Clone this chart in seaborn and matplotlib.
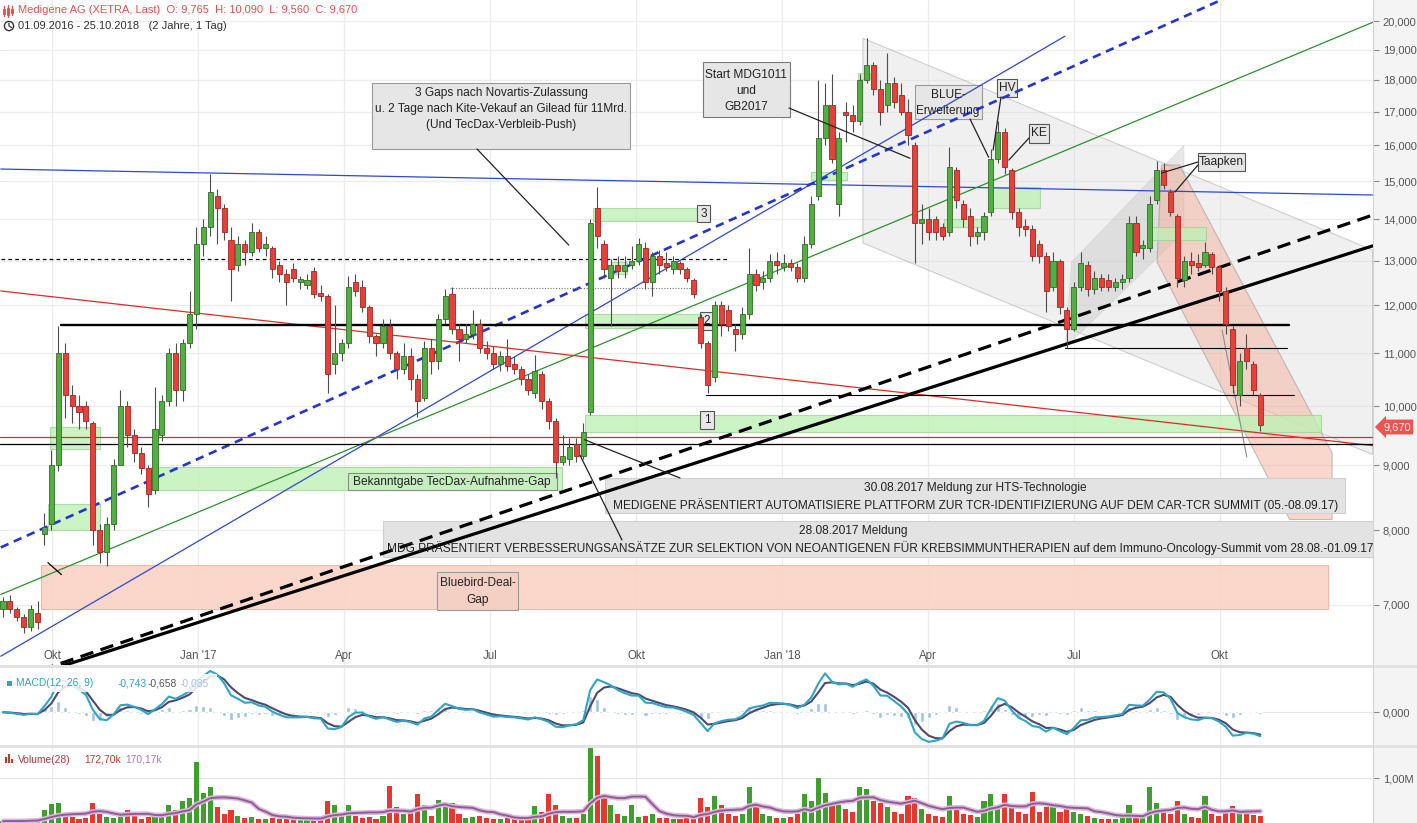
import numpy as np
import pandas as pd
import matplotlib
matplotlib.use("Agg")
import matplotlib.pyplot as plt
import seaborn as sns
from matplotlib.patches import Rectangle, Polygon, Circle
from matplotlib.lines import Line2D
from matplotlib.transforms import Affine2D
from matplotlib.ticker import NullLocator, FixedLocator, FixedFormatter

sns.set_theme(style="white")
plt.rcParams["font.family"] = ["Liberation Sans", "DejaVu Sans"]

# ------------------------------------------------------------------ data
START = "2016-09-01"
END = "2018-10-25"

opens = [6.95, 7.05, 6.95, 6.85, 6.72, 6.90, 7.95, 8.10, 9.00, 11.00,
         10.20, 10.00, 10.00, 9.70, 8.00, 7.70, 8.10, 9.00, 10.00, 9.50,
         9.20, 8.95, 8.60, 9.50, 10.10, 11.00, 10.30, 11.20, 11.80, 13.40,
         13.80, 14.60, 14.30, 13.50, 12.90, 13.40, 13.20, 13.70, 13.30, 13.30,
         12.90, 12.70, 12.80, 12.50, 12.45, 12.75, 12.25, 12.20, 10.80, 11.00,
         11.20, 12.50, 12.40, 11.95, 11.35, 11.20, 11.55, 11.00, 10.70, 10.95,
         10.50, 10.15, 11.10, 10.85, 11.70, 12.25, 11.50, 11.30, 11.40, 11.60,
         11.10, 11.00, 10.80, 10.95, 10.80, 10.70, 10.50, 10.25, 10.60, 10.10,
         9.75, 9.05, 9.10, 9.35, 9.15, 9.90, 14.30, 13.40, 12.60, 12.90,
         12.75, 12.90, 13.00, 13.30, 12.50, 13.10, 12.95, 12.80, 12.95, 12.80,
         12.55, 11.75, 11.20, 10.55, 12.00, 11.90, 11.50, 11.40, 11.80, 12.70,
         12.50, 12.60, 13.00, 12.85, 12.95, 12.85, 12.60, 13.40, 14.60, 16.20,
         17.20, 14.40, 17.00, 16.90, 16.70, 18.00, 18.50, 17.70, 17.20, 17.90,
         17.50, 17.00, 16.00, 13.90, 14.00, 14.00, 13.80, 13.70, 15.30, 14.40,
         14.10, 13.60, 13.70, 14.20, 15.60, 16.40, 15.30, 14.20, 13.80, 13.75,
         13.40, 13.10, 12.40, 13.00, 11.90, 11.50, 12.40, 12.90, 12.35, 12.60,
         12.55, 12.40, 12.50, 12.60, 13.90, 13.30, 13.30, 14.50, 15.30, 14.70,
         14.10, 12.55, 13.00, 12.95, 12.90, 13.15, 12.85, 12.30, 11.50, 10.20,
         11.10, 10.80, 10.20]
highs = [7.10, 7.12, 6.97, 6.88, 7.00, 7.05, 8.25, 9.25, 11.55, 11.20,
         10.40, 10.20, 10.10, 9.75, 8.10, 8.20, 9.10, 10.30, 10.10, 9.60,
         9.30, 9.00, 10.35, 10.20, 11.10, 11.20, 11.30, 12.30, 13.80, 14.00,
         15.20, 14.80, 14.40, 13.80, 13.60, 13.50, 13.90, 13.75, 13.60, 13.35,
         13.00, 12.80, 12.95, 12.65, 12.70, 12.85, 12.45, 12.25, 12.00, 11.30,
         12.65, 12.70, 12.55, 12.00, 11.40, 11.70, 11.70, 11.05, 11.20, 11.10,
         10.60, 11.25, 11.30, 11.80, 12.35, 12.40, 11.60, 11.60, 11.90, 11.70,
         11.25, 11.15, 11.05, 11.30, 10.95, 10.75, 10.60, 10.97, 10.65, 10.15,
         9.80, 9.50, 9.45, 9.45, 9.70, 14.00, 14.85, 13.50, 13.05, 13.10,
         13.10, 13.35, 13.55, 13.45, 13.20, 13.25, 13.20, 13.10, 13.00, 12.85,
         12.60, 11.80, 11.25, 12.10, 12.10, 12.00, 11.60, 11.95, 13.30, 12.80,
         12.75, 13.15, 13.20, 13.15, 13.05, 12.95, 13.60, 14.60, 18.00, 17.90,
         18.20, 16.40, 17.30, 17.20, 18.20, 19.40, 18.60, 18.00, 18.90, 18.10,
         17.90, 17.40, 16.10, 14.40, 14.30, 14.10, 13.90, 15.95, 15.40, 14.50,
         14.30, 13.80, 14.20, 15.90, 16.70, 16.50, 15.35, 14.30, 14.00, 13.85,
         13.50, 13.20, 13.20, 13.05, 11.95, 12.50, 13.20, 13.00, 12.75, 12.70,
         12.70, 12.60, 12.70, 14.10, 14.10, 13.50, 14.60, 15.55, 15.50, 14.80,
         14.15, 13.10, 13.20, 13.15, 13.45, 13.20, 12.90, 12.40, 11.55, 11.00,
         11.40, 10.85, 10.25]
lows = [6.85, 6.90, 6.80, 6.65, 6.68, 6.70, 7.80, 8.00, 8.90, 9.80,
        9.70, 9.60, 9.60, 7.80, 7.55, 7.50, 8.00, 9.00, 9.30, 9.05,
        8.85, 8.35, 8.55, 9.40, 10.00, 10.00, 10.10, 11.10, 11.50, 13.10,
        13.60, 13.40, 13.50, 12.10, 12.75, 12.90, 13.10, 13.20, 13.10, 12.60,
        12.50, 12.00, 12.50, 12.35, 12.35, 12.15, 12.10, 10.25, 10.60, 10.85,
        11.10, 12.20, 11.85, 11.20, 10.95, 11.10, 10.90, 10.50, 10.60, 10.30,
        9.82, 10.10, 10.60, 10.70, 11.60, 11.40, 10.85, 11.20, 11.30, 11.00,
        10.90, 10.70, 10.65, 10.65, 10.60, 10.40, 10.20, 10.15, 9.95, 9.60,
        8.80, 9.00, 9.00, 9.05, 9.10, 9.85, 13.30, 12.60, 11.55, 12.60,
        12.60, 12.80, 12.90, 12.35, 12.20, 12.70, 12.75, 12.70, 12.70, 12.50,
        12.15, 11.10, 10.25, 10.45, 11.35, 11.45, 11.05, 11.30, 11.70, 12.30,
        12.35, 12.50, 12.70, 12.75, 12.75, 12.50, 12.50, 13.30, 14.50, 16.00,
        15.50, 14.10, 16.10, 16.40, 16.60, 17.90, 17.50, 16.60, 17.00, 17.10,
        16.90, 16.00, 12.95, 13.40, 13.50, 13.50, 13.50, 13.60, 14.30, 13.80,
        13.35, 13.40, 13.50, 14.10, 15.50, 15.20, 14.00, 13.60, 13.60, 13.00,
        12.95, 11.85, 12.30, 11.80, 11.10, 11.45, 12.30, 12.20, 12.25, 12.30,
        12.30, 12.30, 12.35, 12.50, 13.10, 13.05, 13.20, 14.40, 14.80, 14.10,
        12.40, 12.40, 12.70, 12.75, 12.85, 12.70, 12.10, 11.40, 10.25, 10.00,
        10.70, 10.20, 9.56]
closes = [7.05, 6.95, 6.85, 6.72, 6.95, 6.78, 8.05, 9.00, 11.00, 10.20,
          10.00, 9.90, 9.75, 8.00, 7.70, 8.10, 9.00, 10.00, 9.50, 9.20,
          8.95, 8.55, 9.60, 10.10, 11.00, 10.30, 11.20, 11.80, 13.40, 13.80,
          14.70, 14.30, 13.70, 12.80, 13.40, 13.20, 13.70, 13.30, 13.40, 12.80,
          12.70, 12.50, 12.60, 12.55, 12.55, 12.25, 12.20, 10.60, 11.00, 11.20,
          12.40, 12.30, 11.95, 11.35, 11.20, 11.55, 11.00, 10.70, 10.95, 10.50,
          10.10, 11.10, 10.85, 11.70, 12.20, 11.50, 11.30, 11.40, 11.60, 11.10,
          11.00, 10.80, 10.95, 10.75, 10.70, 10.50, 10.30, 10.65, 10.10, 9.75,
          9.05, 9.15, 9.30, 9.15, 9.55, 13.90, 13.60, 12.80, 12.90, 12.75,
          12.90, 13.00, 13.40, 12.50, 13.10, 12.90, 12.85, 13.00, 12.80, 12.60,
          12.25, 11.20, 10.40, 12.00, 11.60, 11.55, 11.40, 11.80, 12.70, 12.45,
          12.60, 13.00, 12.90, 12.95, 12.85, 12.60, 13.40, 14.40, 16.20, 17.20,
          15.60, 16.20, 16.90, 16.70, 18.00, 18.50, 17.70, 17.00, 17.90, 17.30,
          17.00, 16.30, 13.90, 14.00, 13.70, 13.70, 13.60, 15.40, 14.50, 14.00,
          13.60, 13.60, 14.10, 15.60, 16.40, 15.40, 14.20, 13.80, 13.75, 13.10,
          13.10, 12.30, 13.00, 11.95, 11.50, 12.40, 12.95, 12.35, 12.60, 12.40,
          12.40, 12.50, 12.55, 13.90, 13.20, 13.30, 14.40, 15.30, 14.90, 14.20,
          12.60, 13.00, 12.90, 12.85, 13.20, 12.85, 12.30, 11.60, 10.40, 10.85,
          10.85, 10.30, 9.67]
volumes_m = [0.04, 0.05, 0.04, 0.05, 0.07, 0.08, 0.30, 0.42, 0.45, 0.20,
             0.14, 0.10, 0.12, 0.45, 0.20, 0.14, 0.12, 0.18, 0.30, 0.20,
             0.10, 0.14, 0.22, 0.16, 0.40, 0.30, 0.50, 0.55, 1.36, 0.67,
             0.80, 0.35, 0.20, 0.30, 0.16, 0.12, 0.14, 0.10, 0.09, 0.12,
             0.10, 0.14, 0.09, 0.08, 0.07, 0.11, 0.09, 0.50, 0.40, 0.20,
             0.40, 0.16, 0.12, 0.14, 0.10, 0.15, 0.83, 0.35, 0.20, 0.24,
             0.64, 0.40, 0.15, 0.52, 0.40, 0.45, 0.20, 0.12, 0.14, 0.15,
             0.11, 0.09, 0.08, 0.12, 0.10, 0.09, 0.11, 0.38, 0.25, 0.64,
             0.40, 0.15, 0.11, 0.12, 0.20, 1.66, 1.50, 0.64, 0.40, 0.20,
             0.15, 0.40, 0.14, 0.15, 0.20, 0.12, 0.11, 0.09, 0.10, 0.12,
             0.16, 0.56, 0.35, 0.60, 0.40, 0.20, 0.15, 0.20, 0.80, 0.40,
             0.20, 0.15, 0.12, 0.11, 0.14, 0.20, 0.65, 0.50, 1.00, 0.67,
             0.45, 0.40, 0.32, 0.25, 0.80, 0.75, 0.50, 0.45, 0.35, 0.25,
             0.20, 0.60, 0.55, 0.32, 0.20, 0.15, 0.14, 0.60, 0.32, 0.20,
             0.18, 0.14, 0.50, 0.65, 0.40, 0.65, 0.35, 0.25, 0.20, 0.70,
             0.25, 0.35, 0.40, 0.25, 0.38, 0.25, 0.20, 0.15, 0.11, 0.09,
             0.08, 0.09, 0.11, 0.40, 0.20, 0.12, 0.80, 0.45, 0.25, 0.20,
             0.48, 0.20, 0.14, 0.12, 0.60, 0.20, 0.15, 0.25, 0.37, 0.20,
             0.25, 0.18, 0.16]

price_ticks = [7, 8, 9, 10, 11, 12, 13, 14, 15, 16, 17, 18, 19, 20]
quarter_dates = ["2016-10-03", "2017-01-02", "2017-04-03", "2017-07-03", "2017-10-02",
                 "2018-01-01", "2018-04-02", "2018-07-02", "2018-10-01"]
quarter_labels = ["Okt", "Jan '17", "Apr", "Jul", "Okt", "Jan '18", "Apr", "Jul", "Okt"]

header_title = "Medigene AG (XETRA, Last)  O: 9,765  H: 10,090  L: 9,560  C: 9,670"
header_range = "01.09.2016 - 25.10.2018   (2 Jahre, 1 Tag)"
last_price = 9.67

# drawings (date, price)
blue_flat_line = (("2016-08-31", 15.33), ("2019-01-03", 14.63))
blue_rising_line = (("2016-08-31", 6.38), ("2018-06-26", 19.47))
blue_dashed_line = (("2016-08-31", 7.76), ("2018-11-20", 22.16))
green_line = (("2016-08-31", 7.13), ("2019-01-03", 19.96))
red_falling_line = (("2016-08-31", 12.31), ("2019-01-03", 9.32))
black_support_line = (("2016-08-31", 6.05), ("2019-01-03", 13.35))
black_dashed_support = (("2016-08-31", 6.07), ("2019-01-03", 14.11))
red_level = 9.47
black_level = 9.35
resistance_level = (11.57, "2016-10-07", "2018-11-13")
dashed_level = (13.04, "2016-08-31", "2017-11-28")
dotted_level = (12.38, "2017-06-07", "2017-11-07")
thin_levels = [(11.11, "2018-06-26", "2018-11-12"), (10.21, "2017-11-14", "2018-11-15")]
gap_zones = [("2016-09-30", "2016-11-01", 9.27, 9.64),
             ("2016-09-29", "2016-11-01", 8.00, 8.39),
             ("2016-12-02", "2017-08-16", 8.60, 8.97),
             ("2017-08-30", "2018-12-03", 9.55, 9.85),
             ("2017-08-30", "2017-11-09", 11.52, 11.81),
             ("2017-09-05", "2017-11-08", 13.97, 14.30),
             ("2017-09-15", "2017-09-26", 12.69, 12.97),
             ("2018-01-18", "2018-02-09", 15.03, 15.24),
             ("2018-02-16", "2018-02-23", 18.02, 18.21),
             ("2018-04-11", "2018-05-07", 13.80, 14.02),
             ("2018-05-09", "2018-06-11", 14.30, 14.84),
             ("2018-08-17", "2018-09-21", 13.49, 13.81)]
bluebird_zone = ("2016-09-26", "2018-12-06", 6.94, 7.52)
big_channel = [("2018-02-20", 19.40), ("2019-01-03", 13.25), ("2019-01-03", 9.17), ("2018-02-20", 13.42)]
up_channel = [("2018-06-26", 11.11), ("2018-06-29", 12.97), ("2018-09-07", 16.0), ("2018-09-07", 13.69)]
down_channel = [("2018-08-22", 12.97), ("2018-08-24", 15.44), ("2018-09-05", 15.44),
                ("2018-12-10", 9.20), ("2018-12-10", 8.16), ("2018-11-13", 8.16)]
steep_line = (("2018-10-02", 11.47), ("2018-10-17", 9.13))
tick_mark_line = (("2016-09-29", 7.55), ("2016-10-07", 7.39))

# ------------------------------------------------------------------ helpers
def bpos(d):
    return float(np.busday_count(np.datetime64(START), np.datetime64(d)))

W, H = 1417, 823
AXW, AXH = 1373, 665
TXT = 8.6

fig = plt.figure(figsize=(W / 100, H / 100), dpi=100, facecolor="white")
PX = Affine2D().scale(1.0 / W, 1.0 / H) + fig.transFigure


def frect(x0, y0, x1, y1):
    return [x0 / W, 1 - y1 / H, (x1 - x0) / W, (y1 - y0) / H]


ax = fig.add_axes(frect(0, 0, AXW, 665))
axm = fig.add_axes(frect(0, 668, AXW, 745), sharex=ax)
axv = fig.add_axes(frect(0, 748, AXW, 823), sharex=ax)

# right axis band and separators
fig.patches.append(Rectangle((AXW, 0), W - AXW, H, transform=PX, fc="#f4f4f4", ec="none", zorder=-5))
fig.patches.append(Rectangle((0, H - 668), W, 3, transform=PX, fc="#e2e2e2", ec="none", zorder=-5))
fig.patches.append(Rectangle((0, H - 748), W, 3, transform=PX, fc="#e2e2e2", ec="none", zorder=-5))
fig.add_artist(Line2D([AXW, AXW], [0, H], transform=PX, color="#d4d4d4", lw=0.8))

N = len(closes)
xs = np.linspace(bpos(START), bpos(END), N)
step = xs[1] - xs[0]
bw = step * 0.74
o = np.array(opens); h = np.array(highs); l = np.array(lows); c = np.array(closes)
up = c >= o

for a in (ax, axm, axv):
    a.set_facecolor("white")
    for s in a.spines.values():
        s.set_visible(False)
    for d in quarter_dates:
        a.axvline(bpos(d), color="#ececec", lw=0.9, zorder=0)
    a.tick_params(axis="x", length=0, labelbottom=False)

# ------------------------------------------------------------------ main pane
ax.set_yscale("log")
ax.set_ylim(6.28, 20.78)
ax.set_xlim(bpos(START) - 1.34, bpos("2019-01-03") + 0.2)
for p in price_ticks:
    ax.axhline(p, color="#ececec", lw=0.9, zorder=0)

# shaded channels
ax.add_patch(Polygon([(bpos(d), p) for d, p in big_channel], closed=True, fc="#dadada", alpha=0.38,
                     ec="#8c8c8c", lw=0.8, zorder=1))
ax.add_patch(Polygon([(bpos(d), p) for d, p in up_channel], closed=True, fc="#bdbdbd", alpha=0.35,
                     ec="#bdbdbd", lw=0.6, zorder=1.1))
ax.add_patch(Polygon([(bpos(d), p) for d, p in down_channel], closed=True, fc="#f4b19c", alpha=0.5,
                     ec="#8c8c8c", lw=0.8, zorder=1.2))

# gap zones
for d0, d1, p0, p1 in gap_zones:
    ax.add_patch(Rectangle((bpos(d0), p0), bpos(d1) - bpos(d0), p1 - p0, fc="#bff0b6", alpha=0.8,
                           ec="#9ed497", lw=0.8, zorder=1.3))
d0, d1, p0, p1 = bluebird_zone
ax.add_patch(Rectangle((bpos(d0), p0), bpos(d1) - bpos(d0), p1 - p0, fc="#fbd3c6", alpha=0.9,
                       ec="#f0b4a3", lw=0.8, zorder=1.3))


def apos(x, y):
    return x / AXW, 1 - y / AXH


def pbox(x0, y0, x1, y1, fc, ec, z=2.5, lw=0.8, clip=False):
    ax.add_patch(Rectangle((x0 / AXW, 1 - y1 / AXH), (x1 - x0) / AXW, (y1 - y0) / AXH,
                           transform=ax.transAxes, fc=fc, ec=ec, lw=lw, zorder=z, clip_on=clip))


def ptext(x, y, s, ha="center", size=TXT, color="#222222", clip=False, z=7):
    ax.text(x / AXW, 1 - y / AXH, s, transform=ax.transAxes, ha=ha, va="center", fontsize=size,
            color=color, zorder=z, clip_on=clip)


def pointer(x, y, d, p):
    ax.annotate("", xy=(bpos(d), p), xycoords="data", xytext=apos(x, y), textcoords="axes fraction",
                arrowprops=dict(arrowstyle="-", color="#222222", lw=0.9, shrinkA=0, shrinkB=0), zorder=6)


def seg(line, **kw):
    (d0, p0), (d1, p1) = line
    ax.plot([bpos(d0), bpos(d1)], [p0, p1], **kw)


# annotation boxes (under the trend lines)
pbox(372, 83, 630, 149, "#e6e6e6", "#9a9a9a")
pbox(703, 62, 790, 117, "#e6e6e6", "#7a7a7a")
pbox(915, 85, 982, 119, "#e6e6e6", "#9a9a9a")
pbox(997, 79, 1017, 97, "#e6e6e6", "#555555")
pbox(1029, 124, 1049, 143, "#e6e6e6", "#555555")
pbox(1198, 153, 1245, 171, "#e6e6e6", "#555555")
pbox(605, 478, 1345, 513, "#e3e3e3", "#d0d0d0")
pbox(383, 521, AXW + 10, 557, "#e3e3e3", "#d0d0d0", clip=True)
pbox(348, 473, 557, 490, "#c6efbf", "#8a8a8a")
pbox(437, 572, 518, 610, "#f3cfc4", "#9a9a9a")
pbox(700, 411, 714, 429, "#e8e8e8", "#555555")
pbox(700, 312, 713, 330, "#e8e8e8", "#555555")
pbox(697, 205, 710, 222, "#e8e8e8", "#555555")

# trend lines
seg(blue_flat_line, color="#2d48d6", lw=0.9, zorder=2.6)
seg(blue_rising_line, color="#2d48d6", lw=0.9, zorder=2.6)
seg(blue_dashed_line, color="#2234d8", lw=1.9, dashes=(3.2, 2.2), zorder=2.6)
seg(green_line, color="#2f8f2f", lw=0.9, zorder=2.6)
seg(red_falling_line, color="#e02a2a", lw=0.9, zorder=2.6)
seg(black_support_line, color="black", lw=2.3, zorder=2.7)
seg(black_dashed_support, color="black", lw=2.3, dashes=(4.2, 2.4), zorder=2.7)
seg(steep_line, color="#8c8c8c", lw=0.8, zorder=2.6)
seg(tick_mark_line, color="black", lw=0.9, zorder=2.6)
ax.axhline(red_level, color="#e02a2a", lw=0.9, zorder=2.6)
ax.axhline(black_level, color="black", lw=0.9, zorder=2.6)
lv, a0, a1 = resistance_level
ax.plot([bpos(a0), bpos(a1)], [lv, lv], color="black", lw=1.7, zorder=2.6)
lv, a0, a1 = dashed_level
ax.plot([bpos(a0), bpos(a1)], [lv, lv], color="black", lw=0.9, dashes=(3, 2.5), zorder=2.6)
lv, a0, a1 = dotted_level
ax.plot([bpos(a0), bpos(a1)], [lv, lv], color="#777777", lw=0.8, dashes=(1, 1.5), zorder=2.6)
for lv, a0, a1 in thin_levels:
    ax.plot([bpos(a0), bpos(a1)], [lv, lv], color="black", lw=0.8, zorder=2.6)

# candles
body_lo = np.minimum(o, c)
body_h = np.maximum(np.abs(c - o), body_lo * 0.006)
ax.vlines(xs, l, h, color="#4d4d4d", lw=0.8, zorder=4)
ax.bar(xs, body_h, bottom=body_lo, width=bw, color=np.where(up, "#55ad45", "#e5413b"),
       edgecolor=np.where(up, "#2f6e22", "#a52420"), lw=0.6, zorder=5)

# callout pointers
pointer(477, 149, "2017-08-21", 13.37)
pointer(789, 108, "2018-03-21", 15.63)
pointer(970, 119, "2018-05-09", 15.66)
pointer(1001, 97, "2018-05-11", 15.86)
pointer(1029, 138, "2018-05-22", 15.58)
pointer(1198, 162, "2018-08-24", 15.22)
pointer(1198, 165, "2018-09-03", 14.71)
pointer(680, 478, "2017-08-30", 9.42)
pointer(622, 540, "2017-08-28", 9.16)

# callout texts
ptext(501, 93, "3 Gaps nach Novartis-Zulassung")
ptext(501, 109, "u. 2 Tage nach Kite-Vekauf an Gilead für 11Mrd.")
ptext(501, 125, "(Und TecDax-Verbleib-Push)")
ptext(746, 75, "Start MDG1011")
ptext(746, 91, "und")
ptext(746, 107, "GB2017")
ptext(948, 95, "BLUE-")
ptext(948, 111, "Erweiterung")
ptext(1007, 88, "HV")
ptext(1039, 133, "KE")
ptext(1221, 162, "Taapken")
ptext(975, 488, "30.08.2017 Meldung zur HTS-Technologie")
ptext(976, 505, "MEDIGENE PRÄSENTIERT AUTOMATISIERE PLATTFORM ZUR TCR-IDENTIFIZIERUNG AUF DEM CAR-TCR SUMMIT (05.-08.09.17)")
ptext(853, 531, "28.08.2017 Meldung", clip=True)
ptext(387, 548, "MDG PRÄSENTIERT VERBESSERUNGSANSÄTZE ZUR SELEKTION VON NEOANTIGENEN FÜR KREBSIMMUNTHERAPIEN "
      "auf dem Immuno-Oncology-Summit vom 28.08.-01.09.17", ha="left", clip=True)
ptext(452, 482, "Bekanntgabe TecDax-Aufnahme-Gap")
ptext(478, 583, "Bluebird-Deal-")
ptext(478, 600, "Gap")
ptext(707, 420, "1")
ptext(707, 321, "2")
ptext(704, 214, "3")

# x labels inside pane
for d, lab in zip(quarter_dates, quarter_labels):
    ax.text(bpos(d), 1 - 656 / AXH, lab, transform=ax.get_xaxis_transform(), ha="center", va="center",
            fontsize=8.3, color="#555555", zorder=7)

# right axis
ax.yaxis.tick_right()
ax.yaxis.set_major_locator(FixedLocator(price_ticks))
ax.yaxis.set_minor_locator(NullLocator())
ax.yaxis.set_major_formatter(FixedFormatter([f"{p:.3f}".replace(".", ",") for p in price_ticks]))
ax.tick_params(axis="y", which="major", direction="out", length=4, width=0.8, color="#8a8a8a",
               labelsize=8.0, labelcolor="#555555", pad=3, right=True, left=False)
ax.tick_params(axis="y", which="minor", length=0)

# last price tag
fig.text(1383, H - 427, f"{last_price:.3f}".replace(".", ","), transform=PX, color="white", fontsize=8.0,
         ha="left", va="center", bbox=dict(boxstyle="larrow,pad=0.22", fc="#ec5452", ec="none"))

# ------------------------------------------------------------------ MACD pane
cl = pd.Series(closes)
ema_fast = cl.ewm(span=12 / 3, adjust=False).mean()
ema_slow = cl.ewm(span=26 / 3, adjust=False).mean()
macd = ema_fast - ema_slow
signal = macd.ewm(span=9 / 3, adjust=False).mean()
hist = macd - signal
axm.bar(xs, hist, width=bw * 0.8, color="#9fbfe3", alpha=0.95, zorder=2)
sns.lineplot(x=xs, y=macd.values, ax=axm, color="#2fa4c4", lw=1.5, zorder=4)
sns.lineplot(x=xs, y=signal.values, ax=axm, color="#4d4b6d", lw=1.5, zorder=3)
axm.axhline(0, color="#e4e4e4", lw=0.8, zorder=0)
axm.set_ylim(-1.0, 1.35)
axm.yaxis.tick_right()
axm.set_yticks([0])
axm.set_yticklabels(["0,000"])
axm.tick_params(axis="y", direction="out", length=4, width=0.8, color="#8a8a8a", labelsize=8.0,
                labelcolor="#555555", pad=3)
axm.set_xlabel(""); axm.set_ylabel("")

# ------------------------------------------------------------------ volume pane
vol = pd.Series(volumes_m)
vol_ma = vol.rolling(9, min_periods=1).mean()
axv.bar(xs, volumes_m, width=bw, color=np.where(up, "#3f9e2e", "#e23a30"), lw=0, zorder=2)
sns.lineplot(x=xs, y=vol_ma.values, ax=axv, color="#dcb8dc", lw=3.6, zorder=3)
sns.lineplot(x=xs, y=vol_ma.values, ax=axv, color="#8f5d93", lw=1.4, zorder=4)
axv.axhline(1.0, color="#e4e4e4", lw=0.8, zorder=0)
axv.set_ylim(0, 1.667)
axv.yaxis.tick_right()
axv.set_yticks([1.0])
axv.set_yticklabels(["1,00M"])
axv.tick_params(axis="y", direction="out", length=4, width=0.8, color="#8a8a8a", labelsize=8.0,
                labelcolor="#555555", pad=3)
axv.set_xlabel(""); axv.set_ylabel("")
ax.set_xlim(bpos(START) - 1.34, bpos("2019-01-03") + 0.2)

# ------------------------------------------------------------------ header & pane labels
def ftext(x, y, s, **kw):
    fig.text(x, H - y, s, transform=PX, va="center", ha="left", **kw)


ftext(18, 10, header_title, color="#e0524f", fontsize=8.0)
ftext(18, 26, header_range, color="#333333", fontsize=8.0)
for xi, hh in ((4, 7), (8, 9), (12, 6)):
    fig.add_artist(Line2D([xi, xi], [H - 10 - hh / 2 - 2, H - 10 + hh / 2 + 1], transform=PX, color="#e0524f", lw=1.0))
    fig.add_artist(Rectangle((xi - 1.2, H - 10 - hh / 2), 2.4, hh * 0.7, transform=PX, fc="none", ec="#e0524f", lw=0.7))
fig.add_artist(Circle((9, H - 26), 4.6, transform=PX, fc="none", ec="#333333", lw=1.0))
fig.add_artist(Line2D([9, 9, 11.5], [H - 23, H - 26, H - 27.5], transform=PX, color="#333333", lw=0.9))

fig.add_artist(Rectangle((3, H - 692), 214, 18, transform=PX, fc="white", ec="none", alpha=0.85, zorder=5))
fig.add_artist(Rectangle((7, H - 686), 5, 5, transform=PX, fc="#2fa4c4", ec="none", zorder=6))
ftext(16, 683, "MACD(12, 26, 9)", color="#2fa4c4", fontsize=7.4, zorder=7)
ftext(118, 683, "-0,743", color="#2fa4c4", fontsize=7.4, zorder=7)
ftext(148, 683, "-0,658", color="#555555", fontsize=7.4, zorder=7)
ftext(180, 683, "-0,085", color="#a7c3e4", fontsize=7.4, zorder=7)

fig.add_artist(Rectangle((3, H - 768), 172, 17, transform=PX, fc="white", ec="none", alpha=0.85, zorder=5))
for xi, hh in ((6, 6), (9, 9), (12, 4)):
    fig.add_artist(Rectangle((xi - 1, H - 763), 2, hh, transform=PX, fc="#c0392b", ec="none", zorder=6))
ftext(18, 760, "Volume(28)", color="#b03a3a", fontsize=7.4, zorder=7)
ftext(84, 760, "172,70k", color="#c0392b", fontsize=7.4, zorder=7)
ftext(125, 760, "170,17k", color="#b07ab0", fontsize=7.4, zorder=7)

fig.savefig("out.png", dpi=100, facecolor="white")
